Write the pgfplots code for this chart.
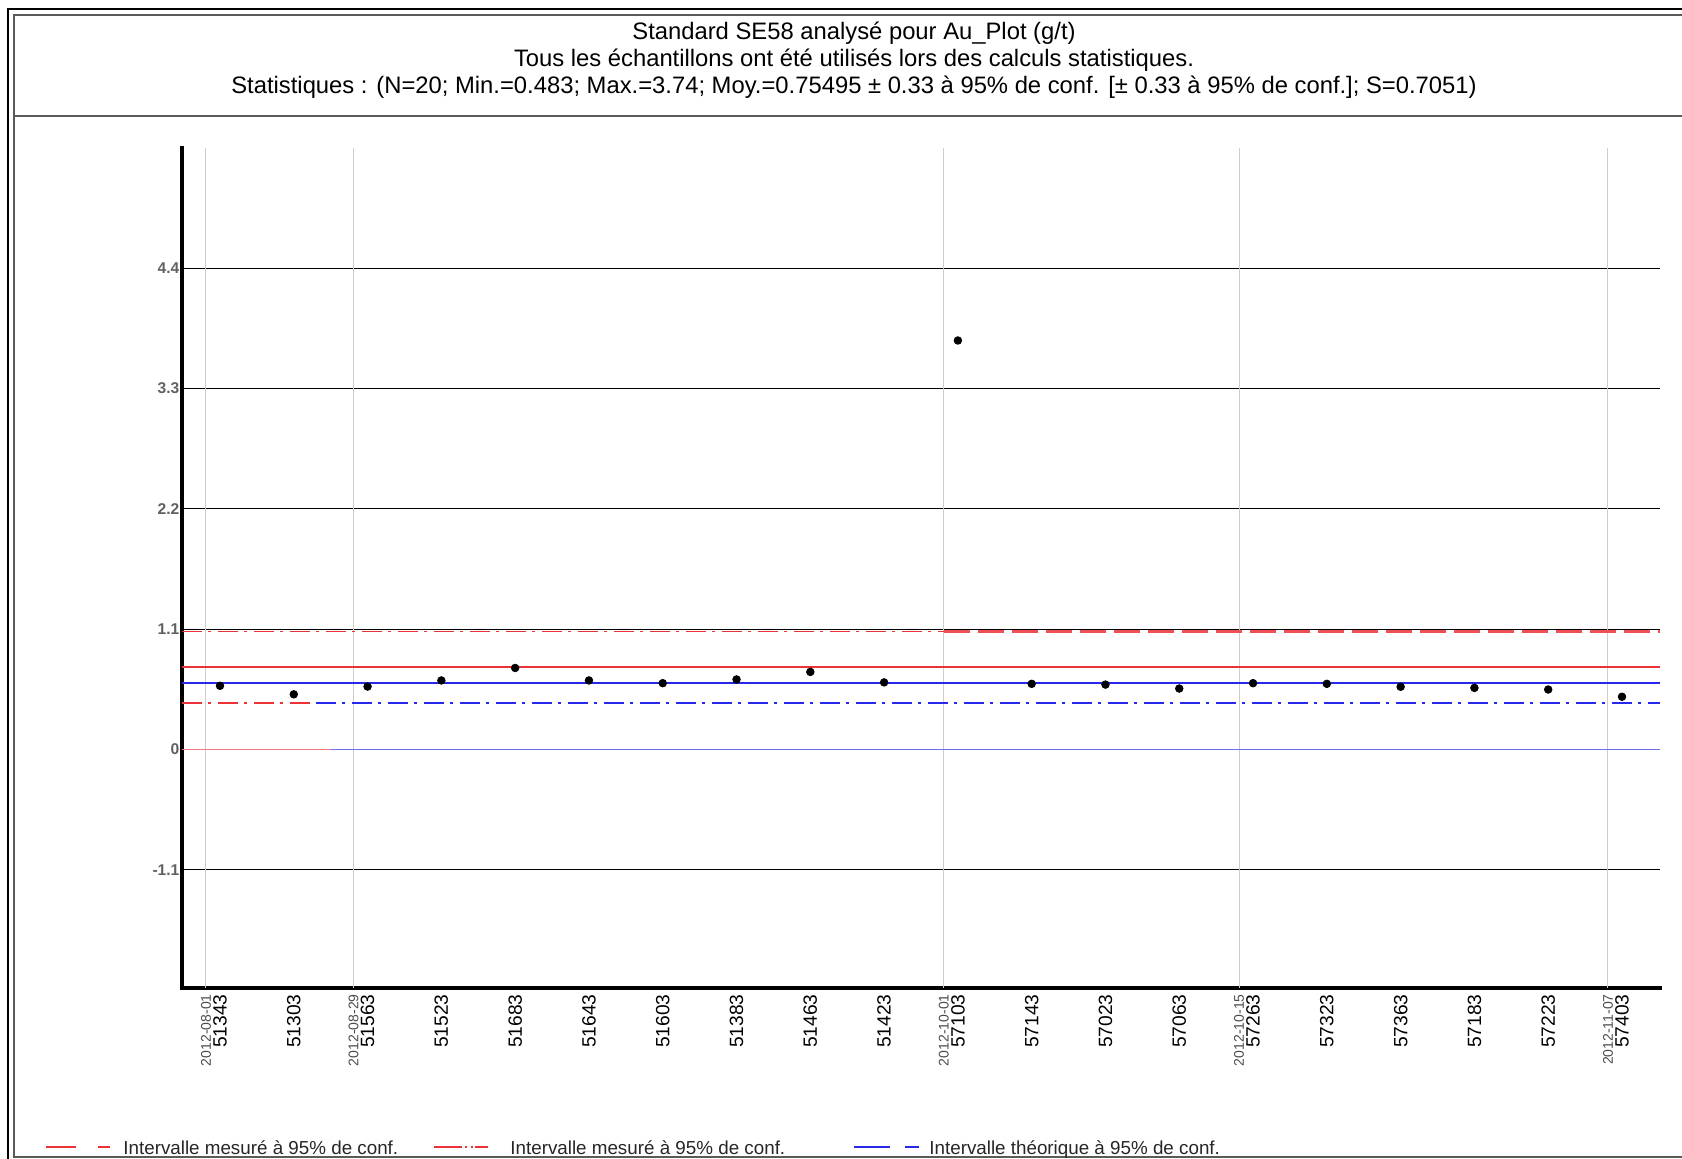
\documentclass[border=0pt]{standalone}
\usepackage{pgfplots}
\pgfplotsset{compat=1.18}
\usepackage{fontspec}
\setmainfont{Liberation Sans}
\definecolor{ptred}{RGB}{235,50,55}
\definecolor{ptblue}{RGB}{40,40,235}
\definecolor{lred}{RGB}{240,120,135}
\definecolor{lblue}{RGB}{110,110,240}
\definecolor{vgrid}{RGB}{205,205,205}
\definecolor{frameg}{RGB}{90,90,90}

\begin{document}
\begin{tikzpicture}
\useasboundingbox (0,0) rectangle (841pt,579pt);
\begin{axis}[
  at={(91pt,85pt)}, anchor=south west,
  scale only axis, width=739pt, height=420pt,
  xmin=-0.515, xmax=19.515, ymin=-2.18, ymax=5.5,
  axis x line*=bottom, axis y line*=left,
  axis line style={line width=2.2pt, -, line cap=rect},
  major tick length=0pt,
  ytick={-1.1,0,1.1,2.2,3.3,4.4},
  yticklabels={-1.1,0,1.1,2.2,3.3,4.4},
  yticklabel style={font=\fontsize{7.8}{8}\selectfont\bfseries, text=black!62, inner sep=0pt, anchor=east, xshift=-1.1pt},
  ymajorgrids, major grid style={black, line width=0.55pt},
  xtick={0,...,19},
  xticklabels={51343,51303,51563,51523,51683,51643,51603,51383,51463,51423,57103,57143,57023,57063,57263,57323,57363,57183,57223,57403},
  xticklabel style={font=\fontsize{9.6}{10}\selectfont, rotate=90, anchor=east, inner xsep=3pt, inner ysep=0pt},
  extra x ticks={-0.19,1.81,9.81,13.81,18.81},
  extra x tick labels={2012-08-01,2012-08-29,2012-10-01,2012-10-15,2012-11-07},
  extra x tick style={grid=major, major grid style={vgrid, line width=0.5pt}, xticklabel style={font=\fontsize{7}{7}\selectfont, text=black!70}},
]
\addplot[lred, line width=0.8pt] coordinates {(-0.515,0) (1.5,0)};
\addplot[lblue, line width=0.8pt] coordinates {(1.5,0) (19.515,0)};
\addplot[ptred, line width=0.8pt, dash pattern=on 10pt off 3pt on 1.5pt off 3.5pt] coordinates {(-0.515,1.078) (9.81,1.078)};
\addplot[ptred!85!white, line width=1.5pt, dash pattern=on 13pt off 4pt] coordinates {(9.81,1.078) (19.515,1.078)};
\addplot[ptred, line width=0.8pt] coordinates {(-0.515,0.755) (19.515,0.755)};
\addplot[ptblue, line width=1pt] coordinates {(-0.515,0.607) (19.515,0.607)};
\addplot[ptred, line width=0.8pt, dash pattern=on 10pt off 3pt on 1.5pt off 3.5pt] coordinates {(-0.515,0.425) (1.3,0.425)};
\addplot[ptblue, line width=0.8pt, dash pattern=on 10pt off 3pt on 1.5pt off 3.5pt] coordinates {(1.3,0.425) (19.515,0.425)};
\addplot[only marks, mark=*, mark size=1.9pt, black] coordinates {
(0,0.583) (1,0.505) (2,0.576) (3,0.632) (4,0.746) (5,0.632) (6,0.607) (7,0.641) (8,0.710) (9,0.614)
(10,3.74) (11,0.601) (12,0.594) (13,0.558) (14,0.607) (15,0.601) (16,0.574) (17,0.564) (18,0.549) (19,0.483)};
\end{axis}
\begin{scope}[x=0.5pt, y=-0.5pt, shift={(0pt,579pt)}]
  % frame
  \draw[black, line width=1.1pt] (8,1160) -- (8,9) -- (1684,9);
  \draw[frameg, line width=1pt] (1684,1157) -- (14,1157) -- (14,15) -- (1684,15);
  \draw[frameg, line width=1pt] (14,116) -- (1684,116);
  % title
  \node[anchor=base, inner sep=0pt, font=\fontsize{11.9}{14}\selectfont] at (854,40) {Standard SE58 analysé pour Au\_Plot (g/t)};
  \node[anchor=base, inner sep=0pt, font=\fontsize{11.9}{14}\selectfont] at (854,67) {Tous les échantillons ont été utilisés lors des calculs statistiques.};
  \node[anchor=base, inner sep=0pt, font=\fontsize{11.9}{14}\selectfont] at (854,94) {Statistiques : (N=20; Min.=0.483; Max.=3.74; Moy.=0.75495 ± 0.33 à 95\% de conf. [± 0.33 à 95\% de conf.]; S=0.7051)};
  % legend
  \draw[ptred, line width=0.8pt] (46,1147) -- (76,1147);
  \draw[ptred, line width=0.8pt] (98,1147) -- (110,1147);
  \node[anchor=base west, inner sep=0pt, font=\fontsize{9.4}{11}\selectfont, text=black!85] at (123,1154) {Intervalle mesuré à 95\% de conf.};
  \draw[ptred, line width=0.8pt] (434,1147) -- (462,1147);
  \draw[ptred, line width=0.8pt, dash pattern=on 1.2pt off 2pt] (465,1147) -- (473,1147);
  \draw[ptred, line width=0.8pt] (475,1147) -- (488,1147);
  \node[anchor=base west, inner sep=0pt, font=\fontsize{9.4}{11}\selectfont, text=black!85] at (510,1154) {Intervalle mesuré à 95\% de conf.};
  \draw[ptblue, line width=0.8pt] (854,1147) -- (890,1147);
  \draw[ptblue, line width=0.8pt] (905,1147) -- (919,1147);
  \node[anchor=base west, inner sep=0pt, font=\fontsize{9.4}{11}\selectfont, text=black!85] at (929,1154) {Intervalle théorique à 95\% de conf.};
\end{scope}
\end{tikzpicture}
\end{document}
